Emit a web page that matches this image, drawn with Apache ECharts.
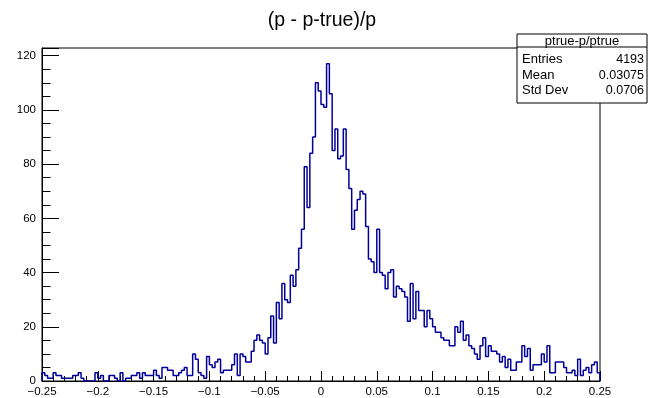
<!DOCTYPE html>
<html>
<head>
<meta charset="utf-8">
<script src="https://cdn.jsdelivr.net/npm/echarts@6/dist/echarts.min.js"></script>
<style>
  html, body { margin: 0; padding: 0; background: #fff; }
  #chart { width: 649px; height: 398px; }
</style>
</head>
<body>
<div id="chart"></div>
<script>
// Histogram of (p - p_true)/p : 200 bins from -0.25 to 0.25
const xMin = -0.25;
const xMax = 0.25;
const counts = [
  3, 2, 1, 1, 3, 2, 2, 1, 1, 1,
  1, 2, 2, 3, 1, 0, 0, 0, 0, 3,
  1, 2, 0, 0, 2, 2, 1, 0, 3, 0,
  1, 1, 2, 2, 3, 1, 3, 2, 2, 2,
  4, 2, 1, 5, 5, 4, 4, 2, 2, 3,
  4, 5, 2, 2, 10, 8, 3, 2, 1, 9,
  6, 5, 7, 8, 3, 4, 4, 4, 6, 10,
  2, 10, 9, 7, 7, 11, 15, 17, 15, 14,
  10, 16, 24, 14, 29, 23, 36, 30, 29, 39,
  35, 41, 49, 56, 79, 64, 84, 90, 110, 107,
  102, 101, 117, 106, 85, 93, 82, 83, 93, 78,
  71, 56, 63, 67, 70, 69, 57, 45, 44, 40,
  56, 40, 39, 34, 40, 41, 31, 35, 34, 33,
  31, 22, 36, 23, 33, 26, 26, 20, 26, 23,
  20, 18, 18, 16, 15, 15, 13, 13, 20, 18,
  22, 15, 17, 13, 12, 10, 8, 13, 16, 9,
  13, 11, 11, 10, 7, 9, 5, 8, 4, 4,
  7, 7, 13, 9, 12, 4, 6, 6, 6, 10,
  7, 13, 3, 3, 7, 7, 7, 5, 3, 3,
  4, 2, 8, 2, 4, 5, 3, 6, 7, 3
];
const yTicks = [0, 20, 40, 60, 80, 100, 120];
const histTitle = '(p - p-true)/p';
const statsName = 'ptrue-p/ptrue';
const statsLabels = ['Entries', 'Mean', 'Std Dev'];
const statsValues = ['4193', '0.03075', '0.0706'];

// Step outline: start and end on the baseline, one point per bin low edge
const binWidth = (xMax - xMin) / counts.length;
const outline = [[xMin, 0]];
counts.forEach((c, i) => outline.push([xMin + i * binWidth, c]));
outline.push([xMax, counts[counts.length - 1]]);
outline.push([xMax, 0]);

const yTop = Math.max(...counts) * 1.05;
const FONT = 'Liberation Sans, Arial, Helvetica, sans-serif';

function fmtX(v) {
  const r = Math.round(v * 1000) / 1000;
  if (r === 0) return '0';
  return (r < 0 ? '\u2212' : '') + String(Math.abs(r));
}

const chart = echarts.init(document.getElementById('chart'), null, { renderer: 'canvas' });

// Stats box in the upper-right corner
const boxX = 517, boxY = 34, boxW = 130, boxH = 69, headH = 13;
const statsGraphics = [
  { type: 'rect', shape: { x: boxX, y: boxY, width: boxW, height: boxH },
    style: { fill: '#fff', stroke: '#000', lineWidth: 1 }, z: 100 },
  { type: 'line', shape: { x1: boxX, y1: boxY + headH, x2: boxX + boxW, y2: boxY + headH },
    style: { stroke: '#000', lineWidth: 1 }, z: 101 },
  { type: 'text', x: boxX + boxW / 2, y: boxY + headH / 2 + 0.5, z: 101,
    style: { text: statsName, font: '13px ' + FONT, fill: '#000', align: 'center', verticalAlign: 'middle' } }
];
statsLabels.forEach((lab, i) => {
  const yy = boxY + headH + 12.5 + i * 15.7;
  statsGraphics.push({ type: 'text', x: boxX + 5, y: yy, z: 101,
    style: { text: lab, font: '13px ' + FONT, fill: '#000', align: 'left', verticalAlign: 'middle' } });
  statsGraphics.push({ type: 'text', x: boxX + boxW - 3, y: yy, z: 101,
    style: { text: statsValues[i], font: '12.5px ' + FONT, fill: '#000', align: 'right', verticalAlign: 'middle' } });
});

// Histogram title, centred over the frame
statsGraphics.push({ type: 'text', x: 322, y: 21, z: 101,
  style: { text: histTitle, font: '19.5px ' + FONT, fill: '#000', align: 'center', verticalAlign: 'middle' } });

chart.setOption({
  animation: false,
  backgroundColor: '#fff',
  grid: {
    left: 42, right: 49, top: 48, bottom: 16,
    show: true, borderColor: '#000', borderWidth: 1, backgroundColor: 'transparent'
  },
  xAxis: {
    type: 'value', min: xMin, max: xMax, interval: 0.05,
    axisLine: { show: true, onZero: false, lineStyle: { color: '#000', width: 1 } },
    axisTick: { show: true, inside: true, length: 10, lineStyle: { color: '#000' } },
    minorTick: { show: true, splitNumber: 5, length: 5, lineStyle: { color: '#000' } },
    splitLine: { show: false },
    axisLabel: { formatter: fmtX, color: '#000', fontFamily: FONT, fontSize: 11.5, margin: 5,
                 showMinLabel: true, showMaxLabel: true }
  },
  yAxis: {
    type: 'value', min: yTicks[0], max: yTop, interval: yTicks[1] - yTicks[0],
    axisLine: { show: true, onZero: false, lineStyle: { color: '#000', width: 1 } },
    axisTick: { show: true, inside: true, length: 17, lineStyle: { color: '#000' } },
    minorTick: { show: true, splitNumber: 4, length: 8.5, lineStyle: { color: '#000' } },
    splitLine: { show: false },
    axisLabel: {
      color: '#000', fontFamily: FONT, fontSize: 11.5, margin: 6,
      formatter: v => (yTicks.indexOf(Math.round(v)) >= 0 && Math.abs(v - Math.round(v)) < 1e-6) ? String(Math.round(v)) : ''
    }
  },
  series: [{
    type: 'line',
    data: outline,
    step: 'end',
    symbol: 'none',
    clip: true,
    lineStyle: { color: '#000099', width: 1.5 },
    z: 5
  }],
  graphic: statsGraphics
});
</script>
</body>
</html>
